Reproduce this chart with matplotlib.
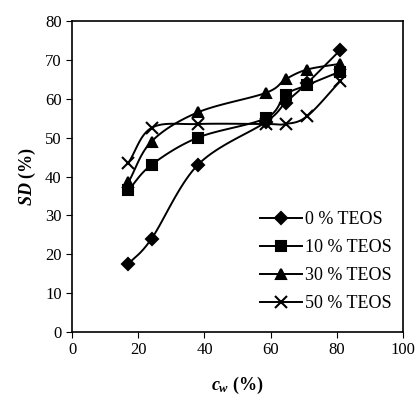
import numpy as np
import matplotlib.pyplot as plt

# water content c_w (%) and degree of swelling SD (%)
cw = [17, 24, 38, 58.5, 64.5, 71, 81]
sd_0 = [17.5, 24, 43, 54, 59, 64, 72.5]
sd_10 = [36.5, 43, 50, 55, 61, 63.5, 67]
sd_30 = [38.5, 49, 56.5, 61.5, 65, 67.5, 69]
sd_50 = [43.5, 52.5, 53.5, 53.5, 53.5, 55.5, 64.5]
labels = ['0 % TEOS', '10 % TEOS', '30 % TEOS', '50 % TEOS']


def smooth_line(x, y, n=20):
    """Catmull-Rom curve through the points, like the spreadsheet 'smoothed line'."""
    p = np.column_stack([x, y]).astype(float)
    p = np.vstack([2 * p[0] - p[1], p, 2 * p[-1] - p[-2]])
    out = []
    t = np.linspace(0, 1, n)[:, None]
    for i in range(1, len(p) - 2):
        p0, p1, p2, p3 = p[i - 1], p[i], p[i + 1], p[i + 2]
        seg = 0.5 * ((2 * p1) + (-p0 + p2) * t + (2 * p0 - 5 * p1 + 4 * p2 - p3) * t ** 2
                     + (-p0 + 3 * p1 - 3 * p2 + p3) * t ** 3)
        out.append(seg)
    out = np.vstack(out)
    return out[:, 0], out[:, 1]


plt.rcParams['font.family'] = ['Liberation Serif', 'DejaVu Serif']
plt.rcParams['mathtext.fontset'] = 'custom'
plt.rcParams['mathtext.it'] = 'Liberation Serif:italic:bold'
plt.rcParams['mathtext.rm'] = 'Liberation Serif:bold'

fig = plt.figure(figsize=(4.19, 4.03), dpi=100)
ax = fig.add_axes([0.172, 0.176, 0.79, 0.772])

markers = ['D', 's', '^', 'x']
sizes = [6, 7.5, 7.5, 9]
for vals, lab, m, ms in zip([sd_0, sd_10, sd_30, sd_50], labels, markers, sizes):
    sx, sy = smooth_line(cw, vals)
    ax.plot(sx, sy, color='black', lw=1.4)
    ax.plot(cw, vals, linestyle='none', marker=m, ms=ms, color='black', mew=1.5)
    ax.plot([], [], color='black', lw=1.4, marker=m, ms=ms, mew=1.5, label=lab)

ax.set_xlim(0, 100)
ax.set_ylim(0, 80)
ax.set_xticks(range(0, 101, 20))
ax.set_yticks(range(0, 81, 10))
ax.tick_params(direction='out', length=4, labelsize=12, color='black')
for s in ax.spines.values():
    s.set_linewidth(1.2)

ax.set_xlabel(r'$c_w$ (%)', fontsize=13, fontweight='bold', labelpad=12)
ax.set_ylabel(r'$SD$ (%)', fontsize=13, fontweight='bold', labelpad=5)

ax.legend(loc='lower right', bbox_to_anchor=(1.0, 0.03), frameon=False, fontsize=13,
          handlelength=2.3, handletextpad=0.2, labelspacing=0.6, borderaxespad=0.2)

fig.savefig('out.png', dpi=100)
